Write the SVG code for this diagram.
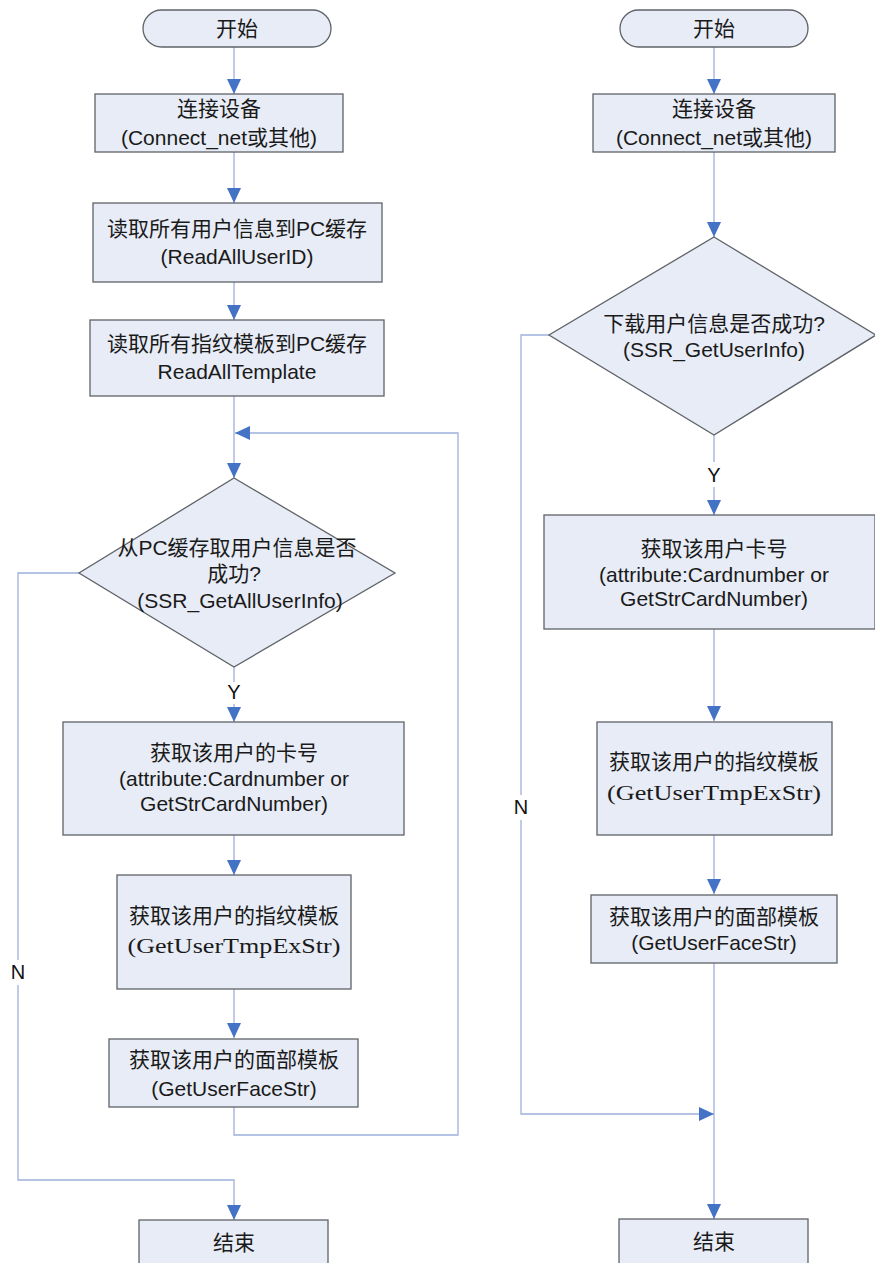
<svg xmlns="http://www.w3.org/2000/svg" width="875" height="1263" viewBox="0 0 875 1263">
<style>
.n{fill:#E7ECF6;stroke:#5F6368;stroke-width:1.3}
.t{font-family:"Liberation Sans","Noto Sans CJK SC",sans-serif;font-size:21px;fill:#1a1a1a;text-anchor:middle;dominant-baseline:central}
.s{font-family:"Liberation Serif","Noto Sans CJK SC",serif;font-size:21px;fill:#1a1a1a;text-anchor:middle;dominant-baseline:central}
.c{fill:none;stroke:#9DB0DD;stroke-width:1.3}
.l{font-family:"Liberation Sans",sans-serif;font-size:20px;fill:#111;text-anchor:middle;dominant-baseline:central}
</style>
<defs>
<marker id="a" markerUnits="userSpaceOnUse" markerWidth="16" markerHeight="15" refX="15" refY="7" orient="auto"><path d="M0,0 L15,7 L0,14 z" fill="#4472C4"/></marker>
</defs>
<g id="connectors">
<line class="c" x1="234" y1="47" x2="234" y2="94" marker-end="url(#a)"/>
<line class="c" x1="234" y1="152" x2="234" y2="203" marker-end="url(#a)"/>
<line class="c" x1="234" y1="282" x2="234" y2="320" marker-end="url(#a)"/>
<line class="c" x1="234" y1="396" x2="234" y2="478" marker-end="url(#a)"/>
<polyline class="c" points="234,1107 234,1135 458,1135 458,433 235,433" marker-end="url(#a)"/>
<line class="c" x1="234" y1="667" x2="234" y2="682"/>
<line class="c" x1="234" y1="704" x2="234" y2="722" marker-end="url(#a)"/>
<line class="c" x1="234" y1="835" x2="234" y2="875" marker-end="url(#a)"/>
<line class="c" x1="234" y1="989" x2="234" y2="1038" marker-end="url(#a)"/>
<polyline class="c" points="79,573 18,573 18,960"/>
<polyline class="c" points="18,985 18,1180 234,1180 234,1220" marker-end="url(#a)"/>
<line class="c" x1="714" y1="47" x2="714" y2="94" marker-end="url(#a)"/>
<line class="c" x1="714" y1="152" x2="714" y2="237" marker-end="url(#a)"/>
<line class="c" x1="714" y1="435" x2="714" y2="462"/>
<line class="c" x1="714" y1="487" x2="714" y2="515" marker-end="url(#a)"/>
<line class="c" x1="714" y1="629" x2="714" y2="721" marker-end="url(#a)"/>
<line class="c" x1="714" y1="835" x2="714" y2="894" marker-end="url(#a)"/>
<line class="c" x1="714" y1="963" x2="714" y2="1219" marker-end="url(#a)"/>
<polyline class="c" points="549,335 521,335 521,795"/>
<polyline class="c" points="521,820 521,1114 714,1114" marker-end="url(#a)"/>
<text class="l" x="234" y="692">Y</text>
<text class="l" x="18" y="972">N</text>
<text class="l" x="714" y="475">Y</text>
<text class="l" x="521" y="807">N</text>
</g>
<g id="start-l"><rect class="n" x="143" y="10" width="188" height="37" rx="18.5"/><text class="t" x="237" y="28">开始</text></g>
<g id="connect-l"><rect class="n" x="95" y="94" width="248" height="58"/><text class="t" x="219" y="108">连接设备</text><text class="t" x="219" y="137">(Connect_net或其他)</text></g>
<g id="readuser-l"><rect class="n" x="93" y="203" width="289" height="79"/><text class="t" x="237" y="228">读取所有用户信息到PC缓存</text><text class="t" x="237" y="256">(ReadAllUserID)</text></g>
<g id="readtmp-l"><rect class="n" x="90" y="320" width="294" height="76"/><text class="t" x="237" y="343">读取所有指纹模板到PC缓存</text><text class="t" x="237" y="371">ReadAllTemplate</text></g>
<g id="decide-l"><polygon class="n" points="234,478 395,573 234,667 79,573"/><text class="t" x="237" y="547">从PC缓存取用户信息是否</text><text class="t" x="234" y="573">成功?</text><text class="t" x="240" y="600">(SSR_GetAllUserInfo)</text></g>
<g id="card-l"><rect class="n" x="63" y="722" width="341" height="113"/><text class="t" x="234" y="752">获取该用户的卡号</text><text class="t" x="234" y="778">(attribute:Cardnumber or</text><text class="t" x="234" y="803">GetStrCardNumber)</text></g>
<g id="finger-l"><rect class="n" x="117" y="875" width="234" height="114"/><text class="t" x="234" y="915">获取该用户的指纹模板</text><text class="s" x="234" y="946" textLength="213" lengthAdjust="spacingAndGlyphs">(GetUserTmpExStr)</text></g>
<g id="face-l"><rect class="n" x="109" y="1039" width="249" height="68"/><text class="t" x="234" y="1059">获取该用户的面部模板</text><text class="t" x="234" y="1088">(GetUserFaceStr)</text></g>
<g id="end-l"><rect class="n" x="139" y="1220" width="189" height="60"/><text class="t" x="234" y="1242">结束</text></g>
<g id="start-r"><rect class="n" x="620" y="10" width="188" height="37" rx="18.5"/><text class="t" x="714" y="28">开始</text></g>
<g id="connect-r"><rect class="n" x="593" y="94" width="242" height="58"/><text class="t" x="714" y="108">连接设备</text><text class="t" x="714" y="137">(Connect_net或其他)</text></g>
<g id="decide-r"><polygon class="n" points="714,237 876,335 714,435 549,335"/><text class="t" x="714" y="323">下载用户信息是否成功?</text><text class="t" x="714" y="349">(SSR_GetUserInfo)</text></g>
<g id="card-r"><rect class="n" x="544" y="515" width="331" height="114"/><text class="t" x="714" y="548">获取该用户卡号</text><text class="t" x="714" y="574">(attribute:Cardnumber or</text><text class="t" x="714" y="598">GetStrCardNumber)</text></g>
<g id="finger-r"><rect class="n" x="597" y="722" width="235" height="113"/><text class="t" x="714" y="761">获取该用户的指纹模板</text><text class="s" x="714" y="793" textLength="214" lengthAdjust="spacingAndGlyphs">(GetUserTmpExStr)</text></g>
<g id="face-r"><rect class="n" x="591" y="895" width="246" height="68"/><text class="t" x="714" y="916">获取该用户的面部模板</text><text class="t" x="714" y="942">(GetUserFaceStr)</text></g>
<g id="end-r"><rect class="n" x="619" y="1219" width="189" height="60"/><text class="t" x="714" y="1241">结束</text></g>
</svg>
